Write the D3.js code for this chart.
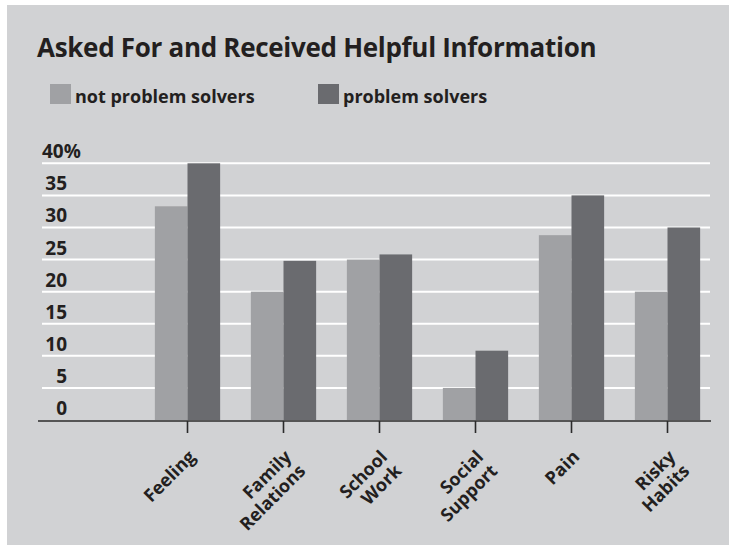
<!DOCTYPE html>
<html>
<head>
<meta charset="utf-8">
<script src="https://cdn.jsdelivr.net/npm/d3@7/dist/d3.min.js"></script>
<style>
  html, body { margin: 0; padding: 0; background: #fff; }
  svg text { font-family: "Open Sans", "DejaVu Sans", sans-serif; fill: #231f20; }
</style>
</head>
<body>
<div id="chart"></div>
<script>
// chart values
const categories = [['Feeling'], ['Family', 'Relations'], ['School', 'Work'], ['Social', 'Support'], ['Pain'], ['Risky', 'Habits']];
const notSolvers = [33.3, 20, 25, 5, 28.8, 20];
const solvers = [40, 24.8, 25.8, 10.8, 35, 30];
const seriesNames = ['not problem solvers', 'problem solvers'];
const yTicks = [0, 5, 10, 15, 20, 25, 30, 35, 40];

const colors = ['#a0a1a4', '#6a6b6f'];
const W = 731, H = 545;

const svg = d3.select('#chart').append('svg')
    .attr('width', W)
    .attr('height', H);

// gray panel
svg.append('rect')
    .attr('x', 7).attr('y', 5)
    .attr('width', 722).attr('height', 540)
    .attr('fill', '#d1d2d4');

svg.append('text')
    .attr('x', 37).attr('y', 57)
    .attr('font-size', 26)
    .attr('font-weight', 700)
    .attr('letter-spacing', -0.3)
    .text('Asked For and Received Helpful Information');

// legend
let legend = svg.append('g').attr('class', 'legend');
let legendX = [50, 318];
seriesNames.forEach((name, i) => {
    legend.append('rect')
        .attr('x', legendX[i]).attr('y', 84)
        .attr('width', 21).attr('height', 20)
        .attr('fill', colors[i]);
    legend.append('text')
        .attr('x', legendX[i] + 25).attr('y', 103)
        .attr('font-size', 18)
        .attr('font-weight', 700)
        .text(name);
});

const keys = categories.map(c => c.join(' '));
const y = d3.scaleLinear().domain([0, 40]).range([420, 163.3]);
const x = d3.scaleBand().domain(keys).range([139.5, 715.5])
    .paddingInner(0.32).paddingOuter(0.16);
const x1 = d3.scaleBand().domain([0, 1]).range([0, x.bandwidth()]);

// gridlines
svg.append('g').attr('class', 'grid')
    .selectAll('line')
    .data(yTicks.filter(t => t > 0))
    .join('line')
    .attr('x1', 42).attr('x2', 710)
    .attr('y1', d => y(d)).attr('y2', d => y(d))
    .attr('stroke', '#ffffff')
    .attr('stroke-width', 2);

// y labels
svg.append('g').attr('class', 'y axis')
    .selectAll('text')
    .data(yTicks)
    .join('text')
    .attr('x', d => d === 40 ? 42 : 67)
    .attr('y', d => y(d) - 5)
    .attr('text-anchor', d => d === 40 ? 'start' : 'end')
    .attr('font-size', 19)
    .attr('font-weight', 700)
    .text(d => d === 40 ? '40%' : d);

// bars
let groups = svg.append('g').attr('class', 'bars')
    .selectAll('g')
    .data(keys)
    .join('g')
    .attr('transform', d => `translate(${x(d)},0)`);
groups.selectAll('rect')
    .data((d, i) => [notSolvers[i], solvers[i]])
    .join('rect')
    .attr('x', (d, j) => x1(j))
    .attr('y', d => y(d))
    .attr('width', x1.bandwidth())
    .attr('height', d => y(0) - y(d))
    .attr('fill', (d, j) => colors[j]);

// x axis line + ticks
svg.append('line')
    .attr('x1', 38).attr('x2', 711)
    .attr('y1', 421).attr('y2', 421)
    .attr('stroke', '#2b2b2b')
    .attr('stroke-width', 1.6);
let xTicks = svg.append('g').attr('class', 'x axis')
    .selectAll('g')
    .data(categories)
    .join('g')
    .attr('transform', (d, i) => `translate(${x(keys[i]) + x.bandwidth() / 2},0)`);
xTicks.append('line')
    .attr('y1', 421).attr('y2', 433)
    .attr('stroke', '#2b2b2b')
    .attr('stroke-width', 1.6);
let label = xTicks.append('text')
    .attr('transform', 'translate(9,458) rotate(-45)')
    .attr('text-anchor', 'end')
    .attr('font-size', 18)
    .attr('font-weight', 700);
label.selectAll('tspan')
    .data(d => d)
    .join('tspan')
    .attr('x', 0)
    .attr('y', (d, i) => i * 20)
    .text(d => d);
</script>
</body>
</html>
